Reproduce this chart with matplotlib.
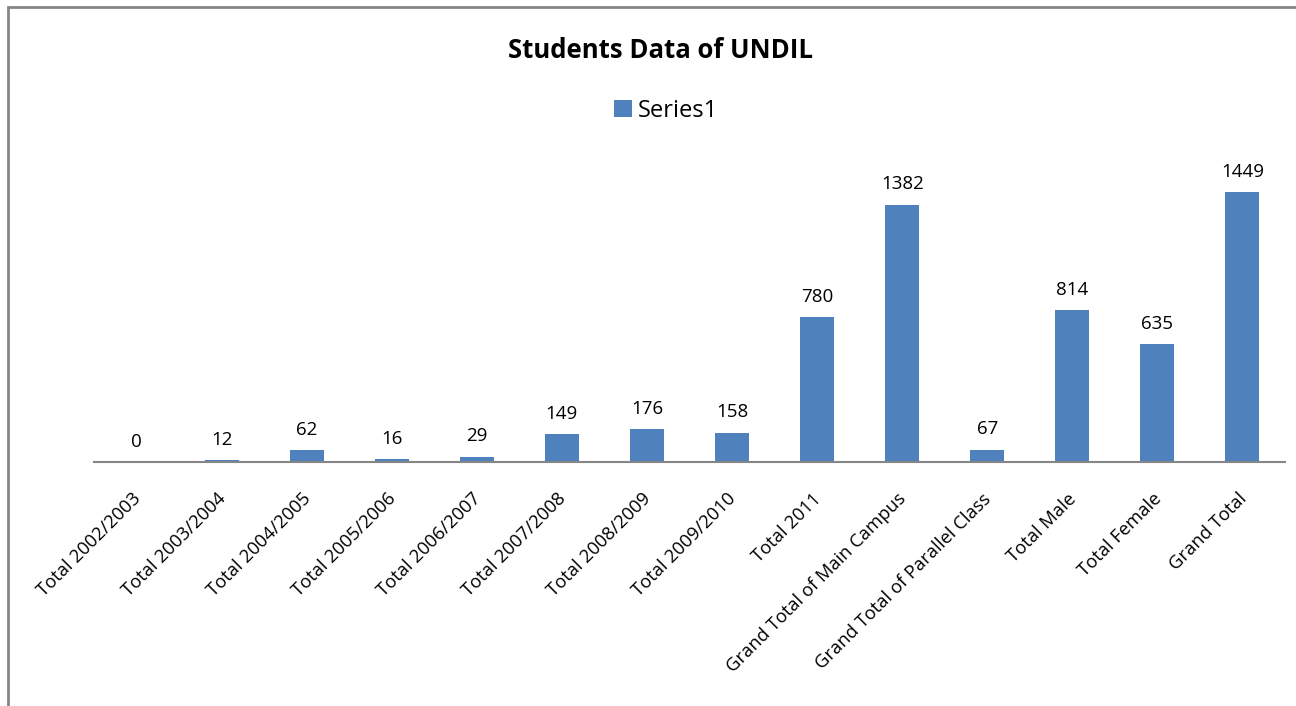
import matplotlib.pyplot as plt
from matplotlib.patches import Rectangle
from matplotlib.transforms import ScaledTranslation

categories = ["Total 2002/2003", "Total 2003/2004", "Total 2004/2005", "Total 2005/2006",
              "Total 2006/2007", "Total 2007/2008", "Total 2008/2009", "Total 2009/2010",
              "Total 2011", "Grand Total of Main Campus", "Grand Total of Parallel Class",
              "Total Male", "Total Female", "Grand Total"]
values = [0, 12, 62, 16, 29, 149, 176, 158, 780, 1382, 67, 814, 635, 1449]

plt.rcParams['font.family'] = ['Open Sans', 'DejaVu Sans']

fig = plt.figure(figsize=(12.96, 7.06), dpi=100)
ax = fig.add_axes([94 / 1296, 1 - 462 / 706, (1285 - 94) / 1296, (462 - 164) / 706])

x = range(len(categories))
bars = ax.bar(x, values, width=0.4, color='#4F81BD', label='Series1')
for xi, v in zip(x, values):
    ax.annotate(str(v), (xi, v), xytext=(0, 8), textcoords='offset points',
                ha='center', va='bottom', fontsize=13.5)

ax.set_xlim(-0.5, len(categories) - 0.5)
ax.set_ylim(0, 1600)
ax.set_yticks([])
ax.set_xticks(list(x))
ax.set_xticklabels(categories, rotation=45, ha='right', rotation_mode='anchor', fontsize=13.2)
ax.tick_params(axis='x', length=0, pad=20)
# nudge tick labels a little left
shift = ScaledTranslation(-5 / 100, 0, fig.dpi_scale_trans)
for lbl in ax.get_xticklabels():
    lbl.set_transform(lbl.get_transform() + shift)
for s in ['top', 'right', 'left']:
    ax.spines[s].set_visible(False)
ax.spines['bottom'].set_color('#868686')
ax.spines['bottom'].set_linewidth(1.5)

fig.text(661 / 1296, 1 - 50 / 706, 'Students Data of UNDIL', ha='center', va='center',
         fontsize=18.5, fontweight='bold')
fig.legend(loc='center', bbox_to_anchor=(666 / 1296, 1 - 111 / 706), frameon=False,
           fontsize=17, handlelength=0.75, handleheight=0.75, handletextpad=0.25)

fig.patches.append(Rectangle((8 / 1296, -0.1), 1.2, 0.1 + 1 - 7 / 706, transform=fig.transFigure,
                             fill=False, edgecolor='#868686', linewidth=2))

fig.savefig('out.png', dpi=100)
